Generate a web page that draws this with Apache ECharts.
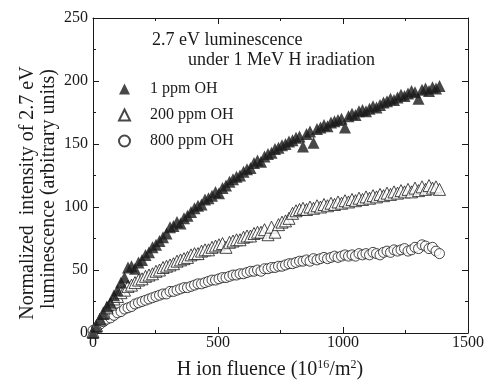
<!DOCTYPE html>
<html>
<head>
<meta charset="utf-8">
<script src="https://cdn.jsdelivr.net/npm/echarts@6/dist/echarts.min.js"></script>
<style>
html,body{margin:0;padding:0;background:#fff;}
#chart{width:487px;height:383px;}
</style>
</head>
<body>
<div id="chart"></div>
<script>
// Fluence values (10^16/m^2)
var fluence = [0,14,28,42,56,70,84,98,112,126,140,154,168,182,196,210,224,238,252,266,280,294,308,322,336,350,364,378,392,406,420,434,448,462,476,490,504,518,532,546,560,574,588,602,616,630,644,658,672,686,700,714,728,742,756,770,784,798,812,826,840,854,868,882,896,910,924,938,952,966,980,994,1008,1022,1036,1050,1064,1078,1092,1106,1120,1134,1148,1162,1176,1190,1204,1218,1232,1246,1260,1274,1288,1302,1316,1330,1344,1358,1372,1386];
// 1 ppm OH (filled triangles)
var ppm1 = [0,5,11,15,21,24,30,34,40,44,52,53,51,56,58,62,64,68,70,73,76,79,84,85,88,87,91,93,96,99,101,102,106,107,109,112,111,115,117,120,122,124,125,128,130,131,135,137,136,140,142,143,146,147,149,150,152,153,155,156,148,158,160,151,162,163,165,164,167,168,169,170,163,172,174,173,176,177,176,178,180,179,181,183,184,186,185,187,189,188,190,192,191,186,193,194,192,195,194,196];
// 200 ppm OH (open triangles)
var ppm200 = [1,6,11,16,20,23,27,29,32,34,37,38,40,42,43,45,46,47,49,50,52,53,54,55,57,58,59,60,62,63,63,65,66,66,68,69,70,71,68,72,73,74,74,76,77,77,79,80,80,82,78,84,80,86,88,89,91,95,97,98,99,98,100,99,101,100,102,101,103,102,104,103,105,104,106,105,107,106,108,107,109,108,110,109,111,110,112,111,113,112,114,112,115,113,116,114,117,115,116,114];
// 800 ppm OH (open circles)
var ppm800 = [2,4,7,9,11,12,14,16,17,19,20,21,23,24,25,26,27,28,29,30,31,31,33,33,34,35,36,36,37,38,39,39,40,41,42,42,43,44,44,45,46,46,47,47,48,49,49,50,49,51,51,52,52,53,53,54,55,55,56,57,57,58,57,59,58,59,60,59,60,61,60,61,62,61,62,61,63,62,63,62,64,63,62,64,65,64,66,65,66,67,65,66,68,67,70,69,67,68,65,63];
var seriesNames = ['1 ppm OH','200 ppm OH','800 ppm OH'];
var xTicks = {min:0, max:1500, interval:500};
var yTicks = {min:0, max:250, interval:50};

function pairs(xs, ys){ var out=[]; for(var i=0;i<ys.length;i++) out.push([xs[i], ys[i]]); return out; }

var FONT = '"Liberation Serif", "Times New Roman", serif';
var INK = '#1a1a1a';
var chart = echarts.init(document.getElementById('chart'));

function xAx(pos, labels){
  return {type:'value', position:pos, min:xTicks.min, max:xTicks.max, interval:xTicks.interval,
    axisLine:{show:true, onZero:false, lineStyle:{color:INK, width:1}},
    axisTick:{show:true, inside:true, length:6, lineStyle:{color:INK}},
    minorTick:{show:true, splitNumber:2, length:3, lineStyle:{color:INK}},
    splitLine:{show:false},
    axisLabel:{show:labels, margin:2, color:INK, fontFamily:FONT, fontSize:16, formatter:function(v){return String(v);}}
  };
}
function yAx(pos, labels){
  return {type:'value', position:pos, min:yTicks.min, max:yTicks.max, interval:yTicks.interval,
    axisLine:{show:true, onZero:false, lineStyle:{color:INK, width:1}},
    axisTick:{show:true, inside:true, length:6, lineStyle:{color:INK}},
    minorTick:{show:true, splitNumber:2, length:3, lineStyle:{color:INK}},
    splitLine:{show:false},
    axisLabel:{show:labels, margin:5, color:INK, fontFamily:FONT, fontSize:16, formatter:function(v){return String(v);}}
  };
}

chart.setOption({
  animation:false,
  backgroundColor:'#fff',
  grid:{left:93, right:19, top:18, bottom:50, containLabel:false},
  xAxis:[xAx('bottom', true), xAx('top', false)],
  yAxis:[yAx('left', true), yAx('right', false)],
  legend:{
    orient:'vertical', left:113, top:76, itemWidth:11, itemHeight:11, itemGap:10,
    data:seriesNames,
    textStyle:{fontFamily:FONT, fontSize:16, color:INK, lineHeight:11, padding:[0,0,0,15]}
  },
  series:[
    {name:seriesNames[2], type:'scatter', symbol:'circle', symbolSize:10, z:2,
      itemStyle:{color:'#fff', borderColor:INK, borderWidth:1}, data:pairs(fluence, ppm800)},
    {name:seriesNames[1], type:'scatter', symbol:'triangle', symbolSize:12, z:3,
      itemStyle:{color:'#fff', borderColor:INK, borderWidth:1}, data:pairs(fluence, ppm200)},
    {name:seriesNames[0], type:'scatter', symbol:'triangle', symbolSize:12, z:4,
      itemStyle:{color:INK, borderColor:INK, borderWidth:0}, data:pairs(fluence, ppm1)}
  ],
  graphic:[
    {type:'text', left:152, top:31, style:{text:'2.7 eV luminescence', font:'18px ' + FONT, fill:INK}},
    {type:'text', left:188, top:51, style:{text:'under 1 MeV H iradiation', font:'18px ' + FONT, fill:INK}},
    {type:'text', x:28, y:193, rotation:Math.PI/2, style:{text:'Normalized  intensity of 2.7 eV', font:'20px ' + FONT, fill:INK, align:'center', verticalAlign:'middle'}},
    {type:'text', x:49, y:189, rotation:Math.PI/2, style:{text:'luminescence (arbitrary units)', font:'20px ' + FONT, fill:INK, align:'center', verticalAlign:'middle'}},
    {type:'text', x:270, y:370, style:{
      text:'H ion fluence (10{sup|16}/m{sup|2})', fill:INK, align:'center', verticalAlign:'middle',
      fontFamily:FONT, fontSize:20,
      rich:{sup:{fontFamily:FONT, fontSize:12, verticalAlign:'top', padding:[0,0,10,0], fill:INK}}
    }}
  ]
});
</script>
</body>
</html>
